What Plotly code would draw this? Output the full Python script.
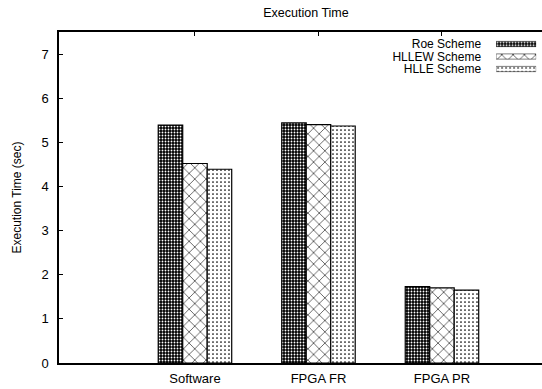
import plotly.graph_objects as go

categories = ["Software", "FPGA FR", "FPGA PR"]
series_names = ["Roe Scheme", "HLLEW Scheme", "HLLE Scheme"]
roe_values = [5.39, 5.44, 1.73]
hllew_values = [4.52, 5.40, 1.70]
hlle_values = [4.39, 5.37, 1.65]
y_tick_values = [0, 1, 2, 3, 4, 5, 6, 7]
swatch_length = [1]

series_values = [roe_values, hllew_values, hlle_values]

FONT = "Liberation Sans, Arial, sans-serif"

patterns = [
    dict(shape=".", bgcolor="black", fgcolor="white", size=3, solidity=0.3, fillmode="replace"),
    dict(shape="x", bgcolor="white", fgcolor="black", size=8, solidity=0.14, fillmode="replace"),
    dict(shape=".", bgcolor="white", fgcolor="black", size=4, solidity=0.15, fillmode="replace"),
]

fig = go.Figure()

for name, vals, pat in zip(series_names, series_values, patterns):
    fig.add_trace(go.Bar(
        x=categories, y=vals, name=name, showlegend=False,
        marker=dict(color="white", pattern=pat, line=dict(color="black", width=1.2)),
        xaxis="x", yaxis="y",
    ))

# legend drawn as a small inset: labels on the left, pattern swatches on the right
for name, pat in zip(series_names, patterns):
    fig.add_trace(go.Bar(
        y=[name], x=swatch_length, orientation="h", showlegend=False,
        width=0.42, offset=-0.21,
        marker=dict(color="white", pattern=pat, line=dict(color="black", width=0.5)),
        xaxis="x2", yaxis="y2", hoverinfo="skip",
    ))

fig.update_layout(
    width=542, height=389,
    margin=dict(l=59, r=0, t=32, b=26, autoexpand=False),
    paper_bgcolor="white", plot_bgcolor="white",
    barmode="group", bargap=0.405, bargroupgap=0,
    font=dict(family=FONT, size=13, color="black"),
    title=dict(text="Execution Time", x=306 / 542, xanchor="center", xref="container",
               y=1 - 13 / 389, yanchor="middle", yref="container",
               font=dict(family=FONT, size=12.5, color="black")),
    xaxis=dict(
        domain=[0, 1], range=[-1.101, 2.81], type="category",
        showline=True, linecolor="black", linewidth=1.5, mirror="ticks",
        ticks="inside", ticklen=4, tickcolor="black", tickwidth=1,
        showgrid=False, zeroline=False, layer="below traces",
        tickfont=dict(family=FONT, size=13), ticklabelstandoff=3,
    ),
    yaxis=dict(
        domain=[0, 1], range=[0, 7.5], tickvals=y_tick_values,
        showline=True, linecolor="black", linewidth=1.5, mirror=False,
        ticks="inside", ticklen=4, tickcolor="black", tickwidth=1,
        showgrid=False, zeroline=False,
        tickfont=dict(family=FONT, size=13), ticklabelstandoff=6,
        title=dict(text="Execution Time (sec)", font=dict(family=FONT, size=12), standoff=17),
    ),
    xaxis2=dict(
        domain=[0.905, 0.988], range=[0, 1], anchor="y2",
        showline=False, showgrid=False, zeroline=False, showticklabels=False, ticks="",
    ),
    yaxis2=dict(
        domain=[0.8693, 0.9826], anchor="x2", type="category",
        categoryorder="array", categoryarray=series_names[::-1],
        tickmode="array", tickvals=series_names, ticktext=series_names,
        showline=False, showgrid=False, zeroline=False, ticks="",
        tickfont=dict(family=FONT, size=12), ticklabelstandoff=14,
    ),
)

fig.write_html(
    "out.html",
    config={"displayModeBar": False},
    post_script="document.body.style.margin='0';document.body.style.overflow='hidden';",
)
